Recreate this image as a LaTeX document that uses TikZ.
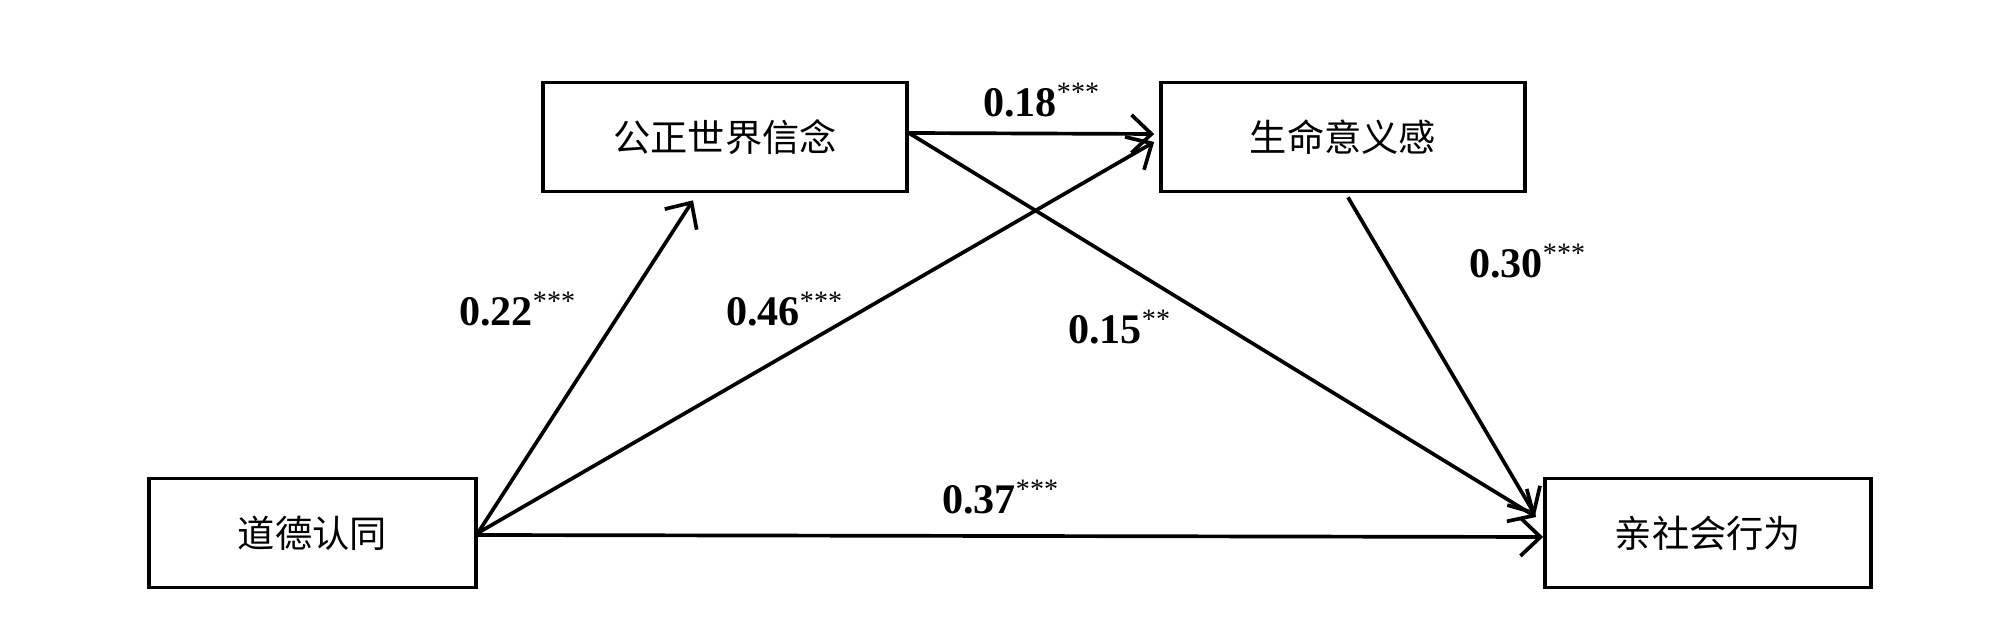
\documentclass[tikz,border=0pt]{standalone}
\usepackage{fontspec}
\setmainfont{Liberation Serif}
\newfontfamily\cjk{Noto Sans CJK SC}
\usepackage{tikz}
\usetikzlibrary{arrows.meta,positioning}
\newcommand{\coef}[2]{\textbf{#1}\textsuperscript{#2}}
\tikzset{
  var/.style={draw=black,line width=1.05pt,fill=white,align=center,font=\cjk\fontsize{10.6}{12}\selectfont,minimum height=1.09cm,inner sep=0pt},
  effect/.style={-{Straight Barb[length=2mm,width=3.8mm,line width=1.05pt]},line width=1.05pt,draw=black},
  lbl/.style={font=\fontsize{12}{14}\selectfont,inner sep=0pt}
}
\begin{document}
\begin{tikzpicture}
  \useasboundingbox (0,0) rectangle (20,6.44);
  \node[var, minimum width=3.27cm] (moral) at (3.125,1.11) {道德认同};
  \node[var, minimum width=3.64cm] (just) at (7.25,5.07) {公正世界信念};
  \node[var, minimum width=3.64cm] (mean) at (13.43,5.07) {生命意义感};
  \node[var, minimum width=3.26cm] (pro) at (17.08,1.11) {亲社会行为};
  \draw[effect] (moral.east) -- ([xshift=-3.2mm,yshift=-0.7mm]just.south);
  \draw[effect] (moral.east) -- ([xshift=-0.5mm,yshift=-0.5mm]mean.west);
  \draw[effect] ([yshift=-0.2mm]moral.east) -- ([yshift=-0.4mm]pro.west);
  \draw[effect] ([yshift=0.4mm]just.east) -- ([xshift=-0.5mm,yshift=0.3mm]mean.west);
  \draw[effect] ([yshift=0.4mm]just.east) -- ([xshift=-0.7mm,yshift=1.6mm]pro.west);
  \draw[effect] ([xshift=0.5mm,yshift=-0.4mm]mean.south) -- ([xshift=-0.8mm,yshift=1.8mm]pro.west);
  \node[lbl] (bJM) at (10.42,5.44) {\coef{0.18}{***}};
  \node[lbl] (aMJ) at (5.18,3.35) {\coef{0.22}{***}};
  \node[lbl] (aMM) at (7.85,3.35) {\coef{0.46}{***}};
  \node[lbl] (bJP) at (11.20,3.17) {\coef{0.15}{**}};
  \node[lbl] (bMP) at (15.28,3.83) {\coef{0.30}{***}};
  \node[lbl] (cMP) at (10.01,1.47) {\coef{0.37}{***}};
\end{tikzpicture}
\end{document}
